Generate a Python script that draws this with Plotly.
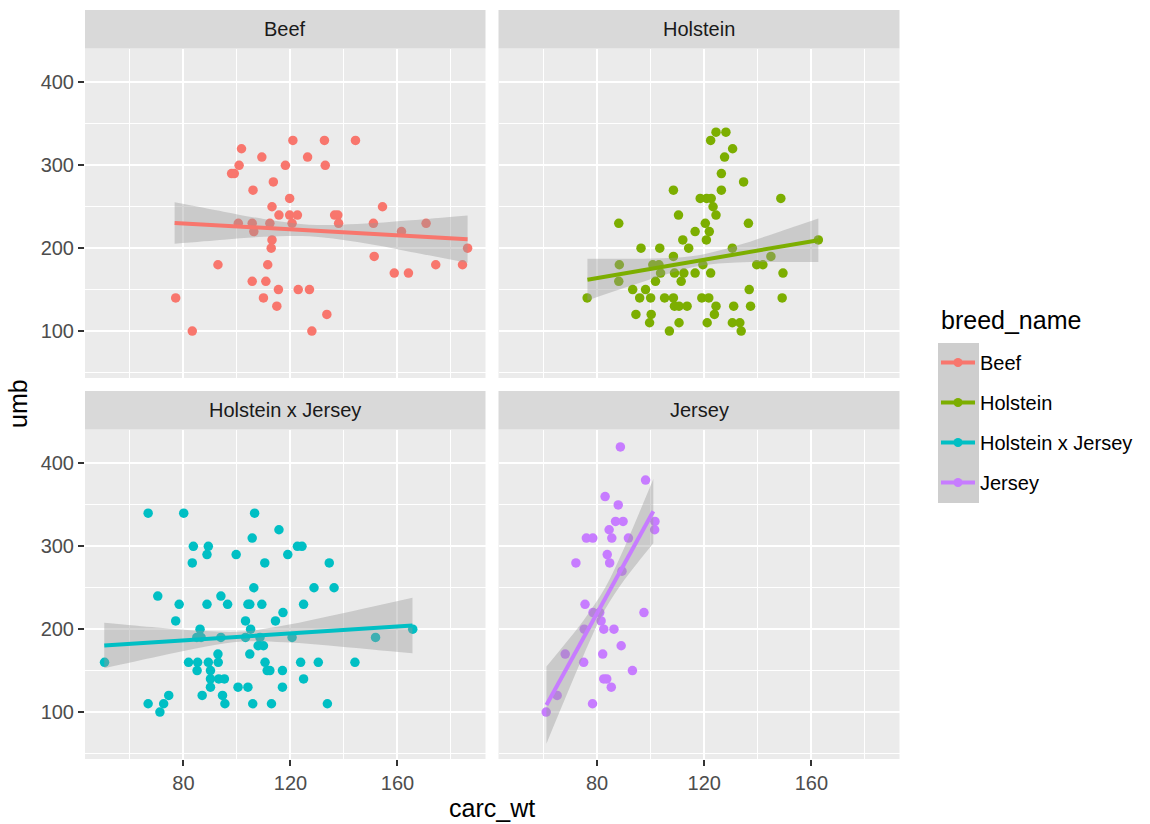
import numpy as np
import plotly.graph_objects as go

breeds = ["Beef", "Holstein", "Holstein x Jersey", "Jersey"]
colors = ["#F8766D", "#7CAE00", "#00BFC4", "#C77CFF"]

beef_carc_wt = [120.9, 132.7, 144.3, 101.7, 109.3, 126.4, 100.8, 118.1, 133.0, 98.0,
                99.0, 113.6, 106.0, 119.7, 154.4, 113.1, 115.7, 119.7, 122.6, 136.5,
                137.7, 100.5, 105.7, 112.3, 120.6, 138.0, 151.0, 170.7, 106.3, 161.5,
                113.1, 112.8, 186.2, 151.3, 92.9, 111.5, 174.3, 184.3, 158.8, 164.1,
                105.7, 110.8, 115.5, 122.9, 127.1, 77.1, 109.9, 114.9, 133.6, 83.3,
                128.0]
beef_umb = [330, 330, 330, 320, 310, 310, 300, 300, 300, 290,
            290, 280, 270, 260, 250, 250, 240, 240, 240, 240,
            240, 230, 230, 230, 230, 230, 230, 230, 220, 220,
            210, 200, 200, 190, 180, 180, 180, 180, 170, 170,
            160, 160, 150, 150, 150, 140, 140, 130, 120, 100,
            100]

holstein_carc_wt = [124.4, 128.1, 122.4, 130.6, 127.6, 126.4, 134.7, 108.5, 126.4, 118.5,
                    120.9, 122.6, 148.6, 123.3, 110.4, 124.4, 88.1, 120.4, 136.5, 116.6,
                    121.9, 112.0, 120.8, 162.6, 96.4, 103.4, 114.2, 130.5, 108.5, 144.9,
                    88.3, 100.8, 103.1, 119.5, 139.6, 141.9, 103.7, 108.9, 112.4, 116.6,
                    122.4, 149.4, 88.1, 101.8, 111.4, 93.3, 98.1, 136.8, 76.3, 95.9,
                    100.0, 105.2, 108.5, 119.1, 121.7, 149.1, 108.9, 110.6, 113.6, 124.4,
                    131.0, 137.3, 94.5, 100.2, 123.8, 99.6, 110.6, 121.1, 130.5, 133.3,
                    107.0, 133.8]
holstein_umb = [340, 340, 330, 320, 310, 290, 280, 270, 270, 260,
                260, 260, 260, 250, 240, 240, 230, 230, 230, 220,
                220, 210, 210, 210, 200, 200, 200, 200, 190, 190,
                180, 180, 180, 180, 180, 180, 170, 170, 170, 170,
                170, 170, 160, 160, 160, 150, 150, 150, 140, 140,
                140, 140, 140, 140, 140, 140, 130, 130, 130, 130,
                130, 130, 120, 120, 120, 110, 110, 110, 110, 110,
                100, 100]

hxj_carc_wt = [66.8, 80.1, 106.6, 115.7, 105.7, 83.7, 89.3, 122.6, 124.3, 88.8,
               99.7, 119.0, 83.3, 110.4, 134.5, 106.3, 128.8, 136.3, 70.4, 94.0,
               78.4, 88.8, 96.5, 104.1, 104.8, 109.3, 124.9, 117.2, 77.1, 103.2,
               114.4, 86.2, 105.1, 165.7, 85.0, 86.6, 94.0, 103.2, 108.6, 120.6,
               151.8, 107.9, 109.9, 92.9, 104.8, 50.5, 81.9, 85.3, 89.3, 93.0,
               110.5, 123.8, 130.4, 144.1, 85.1, 90.1, 111.3, 112.3, 117.0, 90.1,
               93.2, 95.3, 124.9, 90.1, 100.4, 104.1, 117.0, 74.5, 87.0, 94.6,
               66.8, 72.6, 95.5, 105.9, 112.9, 133.8, 71.2]
hxj_umb = [340, 340, 340, 320, 310, 300, 300, 300, 300, 290,
           290, 290, 280, 280, 280, 250, 250, 250, 240, 240,
           230, 230, 230, 230, 230, 230, 230, 220, 210, 210,
           210, 200, 200, 200, 190, 190, 190, 190, 190, 190,
           190, 180, 180, 170, 170, 160, 160, 160, 160, 160,
           160, 160, 160, 160, 150, 150, 150, 150, 150, 140,
           140, 140, 140, 130, 130, 130, 130, 120, 120, 120,
           110, 110, 110, 110, 110, 110, 100]

jersey_carc_wt = [88.7, 98.1, 83.0, 87.9, 86.9, 89.7, 101.6, 84.5, 101.5, 76.0,
                  78.4, 85.5, 91.7, 83.8, 72.1, 84.7, 89.3, 75.5, 78.5, 81.0,
                  97.5, 81.5, 75.2, 82.5, 86.3, 89.0, 68.1, 82.1, 75.0, 93.2,
                  82.5, 83.6, 85.3, 65.1, 78.3, 61.0]
jersey_umb = [420, 380, 360, 350, 330, 330, 330, 320, 320, 310,
              310, 310, 310, 290, 280, 280, 270, 230, 220, 220,
              220, 210, 200, 200, 200, 180, 170, 170, 160, 150,
              140, 140, 130, 120, 110, 100]

# linear-fit lines and their confidence bands
beef_fit_x = [76.7, 186.2]
beef_fit_umb = [230.5, 210.8]
beef_band_x = [76.7, 95, 110, 127, 145, 165, 186.2]
beef_band_lo = [205.4, 210.3, 213.7, 214.4, 207.3, 195.5, 182.3]
beef_band_hi = [255.4, 244.1, 235.3, 228.4, 229.1, 233.7, 239.5]

holstein_fit_x = [76.4, 162.6]
holstein_fit_umb = [162.0, 209.6]
holstein_band_x = [76.4, 90, 105, 118.5, 132, 147, 162.6]
holstein_band_lo = [136.9, 151.8, 167.7, 178.8, 182.6, 183.3, 183.4]
holstein_band_hi = [187.1, 187.2, 187.9, 191.8, 202.8, 218.7, 235.8]

hxj_fit_x = [50.4, 165.6]
hxj_fit_umb = [180.3, 204.4]
hxj_band_x = [50.4, 70, 88, 102.1, 118, 140, 165.6]
hxj_band_lo = [152.8, 166.7, 178.7, 185.1, 184.3, 178.6, 170.9]
hxj_band_hi = [207.8, 202.1, 197.7, 197.1, 204.7, 219.6, 237.9]

jersey_fit_x = [61.1, 101.0]
jersey_fit_umb = [108.4, 342.4]
jersey_band_x = [61.1, 68, 75, 83, 90, 95, 101.0]
jersey_band_lo = [61.8, 115.6, 168.9, 223.9, 258.7, 279.6, 303.6]
jersey_band_hi = [155.0, 182.2, 210.9, 249.9, 297.1, 334.8, 381.2]

x_ticks = [80, 120, 160]
y_ticks = [100, 200, 300, 400]

points = [(beef_carc_wt, beef_umb), (holstein_carc_wt, holstein_umb),
          (hxj_carc_wt, hxj_umb), (jersey_carc_wt, jersey_umb)]
fits = [(beef_fit_x, beef_fit_umb), (holstein_fit_x, holstein_fit_umb),
        (hxj_fit_x, hxj_fit_umb), (jersey_fit_x, jersey_fit_umb)]
bands = [(beef_band_x, beef_band_lo, beef_band_hi),
         (holstein_band_x, holstein_band_lo, holstein_band_hi),
         (hxj_band_x, hxj_band_lo, hxj_band_hi),
         (jersey_band_x, jersey_band_lo, jersey_band_hi)]

W, H = 1150, 824
FONT = "Liberation Sans"

# panel pixel boxes: (x0, x1, y0_top, y1_bottom)
panel_px = [(85, 485.5, 48.5, 378), (498.5, 899.5, 48.5, 378),
            (85, 485.5, 429.5, 759), (498.5, 899.5, 429.5, 759)]
strip_px = [10, 10, 391, 391]

fig = go.Figure()
sfx = ["", "2", "3", "4"]

for i, (xv, yv) in enumerate(points):
    fig.add_trace(go.Scatter(x=xv, y=yv, mode="markers",
                             marker=dict(color=colors[i], size=9.5, line=dict(width=0)),
                             xaxis="x" + sfx[i], yaxis="y" + sfx[i],
                             showlegend=False, hoverinfo="skip"))

for i in range(4):
    bx, blo, bhi = bands[i]
    fig.add_trace(go.Scatter(x=bx, y=blo, mode="lines",
                             line=dict(width=0, shape="spline", smoothing=1.0),
                             xaxis="x" + sfx[i], yaxis="y" + sfx[i],
                             showlegend=False, hoverinfo="skip"))
    fig.add_trace(go.Scatter(x=bx, y=bhi, mode="lines", fill="tonexty",
                             fillcolor="rgba(153,153,153,0.4)",
                             line=dict(width=0, shape="spline", smoothing=1.0),
                             xaxis="x" + sfx[i], yaxis="y" + sfx[i],
                             showlegend=False, hoverinfo="skip"))
    fx, fy = fits[i]
    fig.add_trace(go.Scatter(x=fx, y=fy, mode="lines",
                             line=dict(color=colors[i], width=4),
                             xaxis="x" + sfx[i], yaxis="y" + sfx[i],
                             showlegend=False, hoverinfo="skip"))

for i, b in enumerate(breeds):
    fig.add_trace(go.Scatter(x=[None], y=[None], mode="lines+markers", name=b,
                             legendgroup=b,
                             line=dict(color=colors[i], width=4),
                             marker=dict(color=colors[i], size=9),
                             showlegend=True))

layout = dict(width=W, height=H, margin=dict(l=0, r=0, t=0, b=0),
              paper_bgcolor="white", plot_bgcolor="#EBEBEB",
              font=dict(family=FONT, color="#4D4D4D", size=20))

shapes = []
annotations = []
for i in range(4):
    x0, x1, y0, y1 = panel_px[i]
    bottom = i >= 2
    left = i % 2 == 0
    layout["xaxis" + sfx[i]] = dict(
        domain=[x0 / W, x1 / W], range=[43.2, 192.9], anchor="y" + sfx[i],
        tickvals=x_ticks, showgrid=True, gridcolor="white", gridwidth=2.2,
        minor=dict(tickvals=[60, 100, 140, 180], showgrid=True,
                   gridcolor="white", gridwidth=1.1),
        zeroline=False, showline=False,
        ticks="outside" if bottom else "", ticklen=6, tickwidth=1.5,
        tickcolor="#333333", showticklabels=bottom,
        tickfont=dict(family=FONT, size=20, color="#4D4D4D"))
    layout["yaxis" + sfx[i]] = dict(
        domain=[1 - y1 / H, 1 - y0 / H], range=[43.3, 441], anchor="x" + sfx[i],
        tickvals=y_ticks, showgrid=True, gridcolor="white", gridwidth=2.2,
        minor=dict(tickvals=[50, 150, 250, 350], showgrid=True,
                   gridcolor="white", gridwidth=1.1),
        zeroline=False, showline=False,
        ticks="outside" if left else "", ticklen=6, tickwidth=1.5,
        tickcolor="#333333", showticklabels=left,
        tickfont=dict(family=FONT, size=20, color="#4D4D4D"))
    shapes.append(dict(type="rect", xref="paper", yref="paper",
                       x0=x0 / W, x1=x1 / W, y0=1 - y0 / H, y1=1 - strip_px[i] / H,
                       fillcolor="#D9D9D9", line=dict(width=0), layer="below"))
    annotations.append(dict(text=breeds[i], xref="paper", yref="paper",
                            x=(x0 + x1) / 2 / W, y=1 - (y0 + strip_px[i]) / 2 / H,
                            xanchor="center", yanchor="middle", showarrow=False,
                            font=dict(family=FONT, size=20, color="#1A1A1A")))

# legend key background
shapes.append(dict(type="rect", xref="paper", yref="paper",
                   x0=938 / W, x1=979 / W, y0=1 - 503 / H, y1=1 - 343 / H,
                   fillcolor="#CECECE", line=dict(width=0), layer="below"))

annotations.append(dict(text="breed_name", xref="paper", yref="paper",
                        x=939 / W, y=1 - 320 / H, xanchor="left", yanchor="middle",
                        showarrow=False, font=dict(family=FONT, size=25, color="black")))
annotations.append(dict(text="carc_wt", xref="paper", yref="paper",
                        x=492 / W, y=1 - 808 / H, xanchor="center", yanchor="middle",
                        showarrow=False, font=dict(family=FONT, size=25, color="black")))
annotations.append(dict(text="umb", xref="paper", yref="paper",
                        x=18 / W, y=1 - 404 / H, xanchor="center", yanchor="middle",
                        textangle=-90, showarrow=False,
                        font=dict(family=FONT, size=25, color="black")))

layout["shapes"] = shapes
layout["annotations"] = annotations
layout["showlegend"] = True
layout["legend"] = dict(x=936 / W, y=1 - 343 / H, xanchor="left", yanchor="top",
                        bgcolor="rgba(0,0,0,0)", borderwidth=0,
                        font=dict(family=FONT, size=20, color="black"),
                        tracegroupgap=11, itemwidth=34, itemclick=False)

fig.update_layout(**layout)
fig.write_html("out.html")
